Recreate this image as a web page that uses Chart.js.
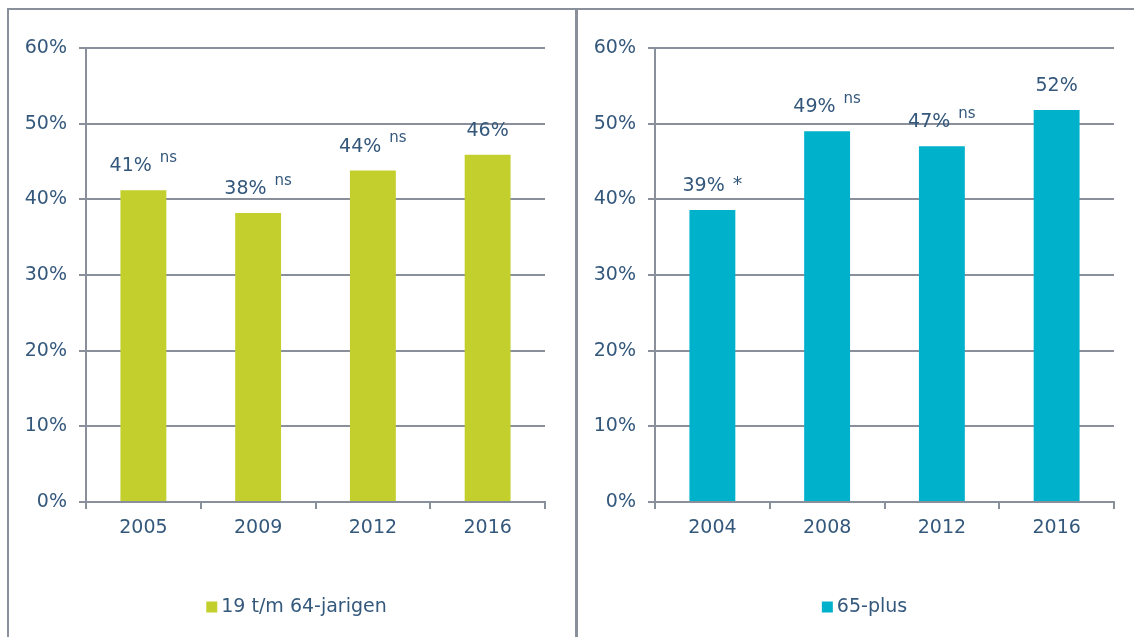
<!DOCTYPE html>
<html>
<head>
<meta charset="utf-8">
<script src="https://cdn.jsdelivr.net/npm/chart.js@4.4.1/dist/chart.umd.min.js"></script>
<style>
  html, body { margin: 0; padding: 0; background: #fff; }
  body { width: 1134px; height: 637px; position: relative; overflow: hidden; }
  .panel { position: absolute; top: 0; height: 637px; }
  #left { left: 0; width: 575px; }
  #right { left: 577px; width: 557px; }
  .line { position: absolute; background: #8a909b; }
</style>
</head>
<body>
<div class="panel" id="left"><canvas id="chartYoung"></canvas></div>
<div class="panel" id="right"><canvas id="chartOld"></canvas></div>
<div class="line" style="left:7px; top:8px; width:2px; height:629px;"></div>
<div class="line" style="left:7px; top:8px; width:1127px; height:2px;"></div>
<div class="line" style="left:575px; top:8px; width:3px; height:629px;"></div>
<script>
const yearsYoung = ['2005', '2009', '2012', '2016'];
const valuesYoung = [41.2, 38.2, 43.8, 45.9];
const textYoung = ['41%', '38%', '44%', '46%'];
const sigYoung = ['ns', 'ns', 'ns', ''];

const yearsOld = ['2004', '2008', '2012', '2016'];
const valuesOld = [38.6, 49.0, 47.0, 51.8];
const textOld = ['39%', '49%', '47%', '52%'];
const sigOld = ['*', 'ns', 'ns', ''];

const yTicks = [0, 10, 20, 30, 40, 50, 60];

const textColor = '#34587c';
const gridColor = '#8a909b';
const fontFamily = "'DejaVu Sans', Verdana, sans-serif";

Chart.defaults.font.family = fontFamily;
Chart.defaults.font.size = 19;
Chart.defaults.color = textColor;

// value label above each bar, with optional significance marker
const barLabels = {
    id: 'barLabels',
    afterDatasetsDraw(chart, args, opts) {
        const ctx = chart.ctx;
        const meta = chart.getDatasetMeta(0);
        ctx.save();
        ctx.fillStyle = textColor;
        ctx.textBaseline = 'middle';
        meta.data.forEach((bar, i) => {
            const main = opts.texts[i];
            const sig = opts.sigs[i];
            ctx.font = '19px ' + fontFamily;
            const wMain = ctx.measureText(main).width;
            let wSig = 0, gap = 0, sigFont = '19px ' + fontFamily, rise = 0;
            if (sig === 'ns') {
                sigFont = '15px ' + fontFamily;
                rise = 8;
                gap = 8;
            } else if (sig) {
                gap = 8;
                rise = 1;
            }
            if (sig) {
                ctx.font = sigFont;
                wSig = ctx.measureText(sig).width;
            }
            const total = wMain + gap + wSig;
            const x0 = bar.x - total / 2;
            const y = bar.y - 24;
            ctx.textAlign = 'left';
            ctx.font = '19px ' + fontFamily;
            ctx.fillText(main, x0, y);
            if (sig) {
                ctx.font = sigFont;
                ctx.fillText(sig, x0 + wMain + gap, y - rise);
            }
        });
        ctx.restore();
    }
};

// legend drawn under the plot, centred in the panel
const panelLegend = {
    id: 'panelLegend',
    afterDraw(chart) {
        const ctx = chart.ctx;
        const ds = chart.data.datasets[0];
        ctx.save();
        ctx.font = '19px ' + fontFamily;
        const w = ctx.measureText(ds.label).width;
        const box = 11, gap = 4;
        const total = box + gap + w;
        const cx = chart.width / 2 + 9;
        const x0 = cx - total / 2;
        const y = 607;
        ctx.fillStyle = ds.backgroundColor;
        ctx.fillRect(x0, y - box / 2, box, box);
        ctx.fillStyle = textColor;
        ctx.textAlign = 'left';
        ctx.textBaseline = 'middle';
        ctx.fillText(ds.label, x0 + box + gap, y);
        ctx.restore();
    }
};

function makeChart(id, years, values, texts, sigs, label, color, yWidth, rightPad) {
    const ctx = document.getElementById(id).getContext('2d');
    return new Chart(ctx, {
        type: 'bar',
        data: {
            labels: years,
            datasets: [{
                label: label,
                data: values,
                backgroundColor: color,
                borderWidth: 0,
                barPercentage: 0.4,
                categoryPercentage: 1.0
            }]
        },
        options: {
            responsive: true,
            maintainAspectRatio: false,
            animation: false,
            layout: { padding: { top: 48, right: rightPad, bottom: 0, left: 0 } },
            plugins: {
                legend: { display: false },
                tooltip: { enabled: false },
                barLabels: { texts: texts, sigs: sigs }
            },
            scales: {
                y: {
                    min: 0,
                    max: 60,
                    afterBuildTicks: (scale) => { scale.ticks = yTicks.map(v => ({ value: v })); },
                    afterFit: (scale) => { scale.width = yWidth; },
                    ticks: {
                        padding: 12,
                        callback: (v) => v + '%'
                    },
                    grid: { color: gridColor, lineWidth: 2, tickLength: 7 },
                    border: { color: gridColor, width: 2 }
                },
                x: {
                    afterFit: (scale) => { scale.height = 135; },
                    ticks: { padding: 8 },
                    grid: {
                        offset: true,
                        drawOnChartArea: false,
                        color: gridColor,
                        lineWidth: 2,
                        tickLength: 7
                    },
                    border: { color: gridColor, width: 2 }
                }
            }
        },
        plugins: [barLabels, panelLegend]
    });
}

makeChart('chartYoung', yearsYoung, valuesYoung, textYoung, sigYoung,
    '19 t/m 64-jarigen', '#c3cf2d', 86, 30);
makeChart('chartOld', yearsOld, valuesOld, textOld, sigOld,
    '65-plus', '#00b1cc', 78, 20);
</script>
</body>
</html>
